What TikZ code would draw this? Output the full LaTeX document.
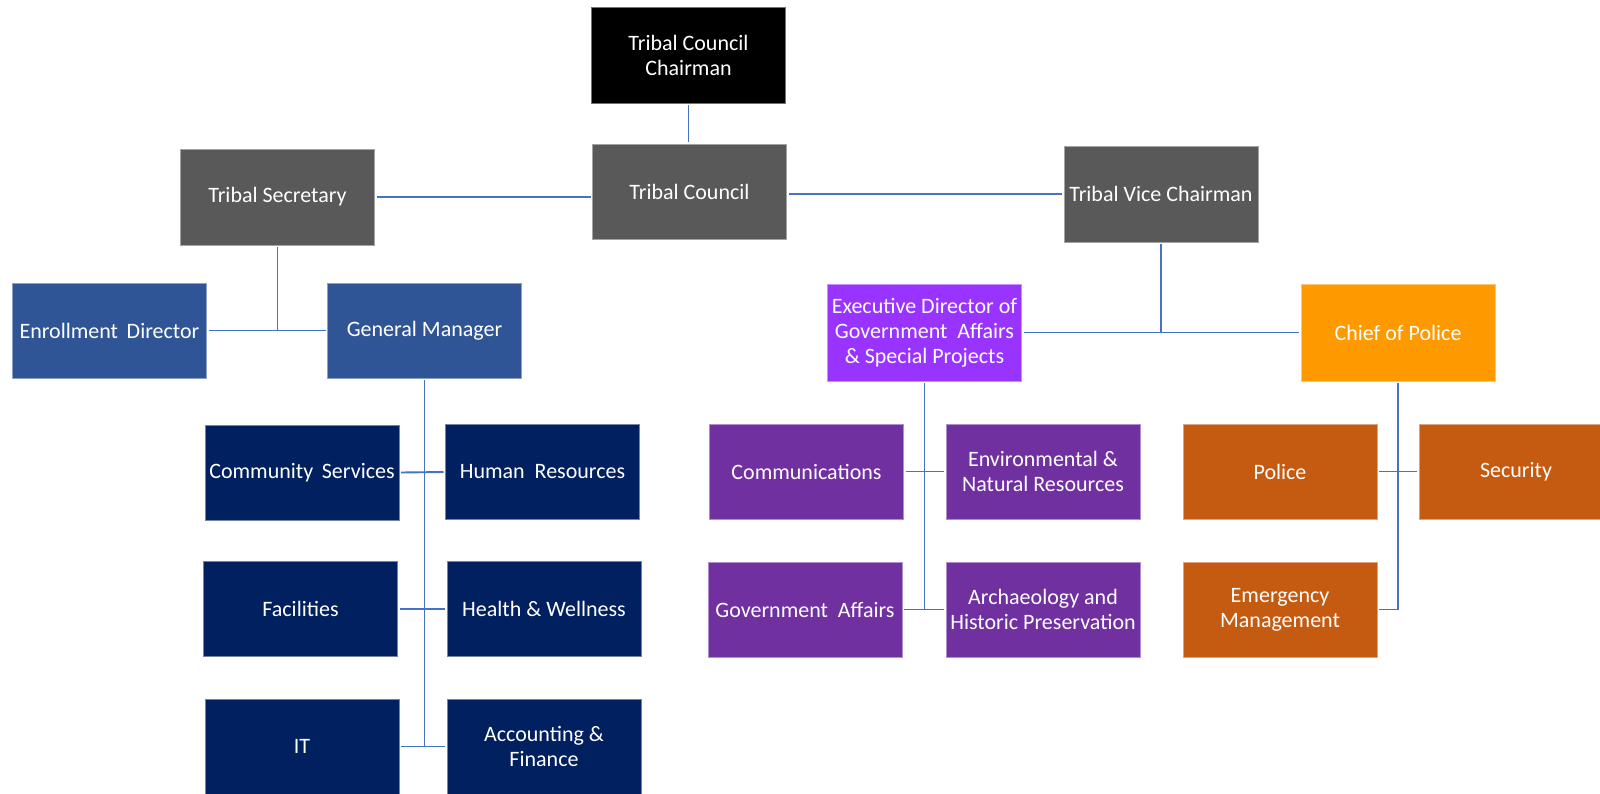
\documentclass[tikz,border=0pt]{standalone}
\usepackage{fontspec}
\setmainfont{Carlito}
\definecolor{cgray}{HTML}{595959}
\definecolor{cblack}{HTML}{000000}
\definecolor{cblue}{HTML}{2F5597}
\definecolor{cnavy}{HTML}{002060}
\definecolor{cviolet}{HTML}{9933FF}
\definecolor{cpurple}{HTML}{7030A0}
\definecolor{corange}{HTML}{FF9900}
\definecolor{crust}{HTML}{C55A11}
\definecolor{cline}{HTML}{4472C4}
\begin{document}
\begin{tikzpicture}[x=1pt,y=-1pt,
  box/.style={rectangle, fill=#1, draw=#1!55!white, line width=0.8pt,
    minimum width=194pt, minimum height=95pt, inner sep=1pt, outer sep=2pt,
    text=white, align=center, font=\fontsize{22}{25}\selectfont},
  link/.style={draw=cline, line width=1.9pt}]
\useasboundingbox (0,0) rectangle (1600,794);
\fill[white] (0,0) rectangle (1600,794);
% top level
\node[box=cblack, minimum height=96pt] (chair) at (688.5,55) {Tribal Council\\Chairman};
\node[box=cgray] (council) at (689.5,191.5) {Tribal Council};
\node[box=cgray, minimum height=96pt] (sec) at (277.5,197) {Tribal Secretary};
\node[box=cgray, minimum height=96pt] (vc) at (1161,194) {Tribal Vice Chairman};
% second level
\node[box=cblue] (enroll) at (109.5,330.5) {Enrollment\ \,Director};
\node[box=cblue] (gm) at (424.5,330.5) {General Manager};
\node[box=cviolet, minimum height=97pt] (exec) at (924.5,332.5) {Executive Director of\\Government\ \ Affairs\\\& Special Projects};
\node[box=corange, minimum height=97pt] (chief) at (1398,332.5) {Chief of Police};
% GM departments
\node[box=cnavy] (cs) at (302,472.5) {Community\ \,Services};
\node[box=cnavy] (hr) at (542.5,472) {Human\ \ Resources};
\node[box=cnavy] (fac) at (300.5,609) {Facilities};
\node[box=cnavy] (hw) at (544,609) {Health \& Wellness};
\node[box=cnavy] (it) at (302,746.5) {IT};
\node[box=cnavy] (acc) at (544,746.5) {Accounting \&\\Finance};
% Exec departments
\node[box=cpurple] (comm) at (806.5,471.5) {Communications};
\node[box=cpurple] (env) at (1043,471.5) {Environmental \&\\Natural Resources};
\node[box=cpurple] (gov) at (805,609.5) {Government\ \ Affairs};
\node[box=cpurple] (arch) at (1043,609.5) {Archaeology and\\Historic Preservation};
% Police departments
\node[box=crust] (police) at (1280,471.5) {Police};
\node[box=crust] (security) at (1516,471.5) {Security};
\node[box=crust] (emerg) at (1280,609.5) {Emergency\\Management};
% junctions
\coordinate (jsec) at (sec.south |- gm.west);
\coordinate (jgm) at (gm.south |- it.east);
\coordinate (jvc) at (vc.south |- exec.east);
\coordinate (jexec) at (exec.south |- gov.east);
\coordinate (jchief) at (chief.south |- emerg.east);
% connectors
\draw[link] (chair.south) -- (chair.south |- council.north);
\draw[link] (sec.east) -- (council.west |- sec.east);
\draw[link] (council.east |- vc.west) -- (vc.west);
\draw[link] (sec.south) -- (jsec);
\draw[link] (enroll.east) -- (gm.west);
\draw[link] (gm.south) -- (jgm);
\draw[link] (cs.east) -- (hr.west);
\draw[link] (fac.east) -- (hw.west);
\draw[link] (it.east) -- (acc.west);
\draw[link] (vc.south) -- (jvc);
\draw[link] (exec.east) -- (chief.west);
\draw[link] (exec.south) -- (jexec);
\draw[link] (comm.east) -- (env.west);
\draw[link] (gov.east) -- (arch.west);
\draw[link] (chief.south) -- (jchief);
\draw[link] (police.east) -- (security.west);
\draw[link] (emerg.east) -- (jchief);
\end{tikzpicture}
\end{document}
